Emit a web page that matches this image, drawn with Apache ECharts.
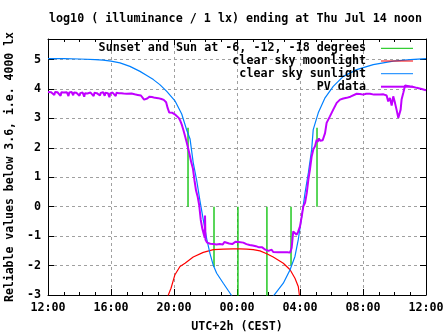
<!DOCTYPE html>
<html><head><meta charset="utf-8">
<script src="https://cdn.jsdelivr.net/npm/echarts@6/dist/echarts.min.js"></script>
<style>html,body{margin:0;padding:0;background:#fff}#c{width:447px;height:335px}</style>
</head><body><div id="c"></div><script>
const xTickLabels = ['12:00','16:00','20:00','00:00','04:00','08:00','12:00'];
const xTickHours = [0,4,8,12,16,20,24];
const seriesNames = ['Sunset and Sun at -6, -12, -18 degrees','clear sky moonlight','clear sky sunlight','PV data'];
const sunEventHours = [8.89, 10.54, 12.06, 13.90, 15.43, 17.08];
const sunEventTops  = [2.68, -2.05, -3.5, -3.5, -2.0, 2.68];
const moonHours  = [7.55,7.64,7.81,8.06,8.38,8.70,9.22,9.86,10.50,11.13,11.77,12.19,12.62,13.03,13.46,13.89,14.30,14.94,15.37,15.68,15.89,15.96,16.02];
const moonValues = [-3.3,-3.0,-2.77,-2.31,-2.03,-1.92,-1.71,-1.55,-1.46,-1.44,-1.43,-1.43,-1.44,-1.46,-1.50,-1.60,-1.71,-1.92,-2.14,-2.43,-2.71,-3.0,-3.3];
const sunHours  = [0,1,2,3,3.5,4,4.57,5.2,5.84,6.3,6.69,7.1,7.54,8.06,8.49,8.81,9.02,9.22,9.44,9.65,9.86,10.08,10.29,10.5,10.71,11.13,11.56,11.75,
                   14.2,14.29,14.94,15.37,15.68,15.89,16.11,16.32,16.53,16.74,16.84,17.16,17.59,18.11,18.75,19.6,20.65,21.92,23,24];
const sunValues = [5.03,5.03,5.02,5.0,4.98,4.95,4.89,4.77,4.6,4.45,4.32,4.15,3.92,3.6,3.15,2.6,2.3,1.5,0.9,0.2,-0.45,-1.1,-1.6,-2.0,-2.26,-2.6,-2.94,-3.1,
                   -3.2,-3.05,-2.6,-2.14,-1.69,-1.12,-0.33,0.47,1.15,1.94,2.62,3.19,3.70,4.09,4.43,4.66,4.83,4.95,5.0,5.03];
const pvHours = [0.0,0.1,0.2,0.3,0.4,0.45,0.6,0.7,0.8,0.85,1.0,1.1,1.2,1.3,1.35,1.5,1.6,1.65,1.8,1.9,2.0,2.05,2.2,2.3,2.35,2.5,2.6,2.7,2.8,2.9,2.95,3.1,3.2,3.3,3.35,3.5,3.6,3.65,3.8,3.9,3.95,4.1,4.2,4.3,4.35,4.5,4.6,4.65,4.8,4.9,5.0,5.1,5.3,5.5,5.7,5.9,6.0,6.1,6.2,6.3,6.45,6.6,6.8,7.0,7.2,7.35,
  7.5,7.6,7.7,7.8,7.9,8.0,8.1,8.2,8.3,8.4,8.5,8.6,8.7,8.8,8.9,9.0,9.1,9.2,9.3,9.4,9.5,9.6,9.7,9.8,9.9,9.95,9.97,10.0,10.1,10.2,
  10.3,10.4,10.5,10.6,10.7,10.8,10.9,11.0,11.1,11.2,11.3,11.5,11.6,11.7,11.8,11.9,12.0,12.1,12.2,12.4,12.5,12.6,12.7,12.8,12.9,13.0,13.1,13.2,13.3,13.4,13.5,13.6,13.7,13.8,13.9,14.0,14.1,14.2,14.3,14.4,14.6,14.8,15.0,15.2,15.37,
  15.47,15.57,15.68,15.79,15.89,16.0,16.11,16.21,16.32,16.43,16.53,16.63,16.74,16.85,16.95,17.06,17.12,17.2,17.28,17.36,17.44,17.52,17.59,17.69,17.9,18.11,18.33,18.54,18.75,18.96,19.2,19.6,19.8,20.02,20.2,20.44,20.7,21.08,21.3,21.5,
  21.6,21.71,21.82,21.92,22.03,22.13,22.24,22.3,22.39,22.45,22.56,22.67,22.98,23.2,23.41,23.72,24.0];
const pvValues = [3.90,3.91,3.89,3.90,3.80,3.90,3.89,3.88,3.77,3.89,3.88,3.87,3.89,3.76,3.88,3.90,3.79,3.88,3.87,3.92,3.77,3.86,3.88,3.74,3.86,3.85,3.79,3.88,3.86,3.76,3.87,3.86,3.88,3.78,3.87,3.89,3.77,3.87,3.86,3.72,3.85,3.88,3.84,3.76,3.87,3.86,3.80,3.86,3.85,3.87,3.84,3.86,3.85,3.82,3.80,3.78,3.72,3.64,3.60,3.68,3.74,3.73,3.70,3.69,3.66,3.63,
  3.55,3.35,3.20,3.15,3.19,3.16,3.12,3.10,3.02,2.92,2.78,2.60,2.40,2.20,1.98,1.75,1.50,1.30,0.90,0.55,0.35,0.05,-0.45,-0.75,-0.95,-1.05,-0.30,-1.12,-1.22,-1.28,
  -1.26,-1.29,-1.27,-1.25,-1.28,-1.22,-1.27,-1.24,-1.28,-1.20,-1.26,-1.25,-1.20,-1.27,-1.24,-1.19,-1.22,-1.20,-1.19,-1.22,-1.24,-1.27,-1.26,-1.30,-1.33,-1.32,-1.35,-1.34,-1.37,-1.38,-1.41,-1.38,-1.44,-1.46,-1.48,-1.50,-1.46,-1.46,-1.54,-1.55,-1.55,-1.55,-1.55,-1.55,-1.56,
  -1.40,-0.84,-0.78,-0.95,-0.84,-0.67,-0.33,0.01,0.13,0.47,0.92,1.26,1.71,1.95,2.05,2.28,2.20,2.32,2.24,2.30,2.26,2.30,2.50,2.85,3.07,3.30,3.53,3.64,3.68,3.70,3.74,3.84,3.83,3.81,3.84,3.84,3.81,3.81,3.82,3.78,
  3.58,3.70,3.44,3.75,3.53,3.30,3.02,3.07,3.30,3.64,3.87,4.12,4.09,4.07,4.04,4.00,3.96];

const FONT = 'DejaVu Sans Mono';
const FS = 11.7;
const txt = {fontFamily: FONT, fontSize: FS, fontWeight: 'bold', color: '#000'};

const greenData = [];
sunEventHours.forEach((h, i) => { greenData.push([h, 0], [h, sunEventTops[i]], [h, '-']); });
const zip = (a, b) => a.map((v, i) => [v, b[i]]);

const colors = ['#00c000', '#ff0000', '#0080ff', '#c000ff'];
const legendRowTop = [41.3, 54, 66.7, 79.7];
const legendIconH = [1, 1, 1, 2];

const chart = echarts.init(document.getElementById('c'), null, {renderer: 'canvas'});
chart.setOption({
  animation: false,
  backgroundColor: '#fff',
  title: {text: 'log10 ( illuminance / 1 lx) ending at Thu Jul 14 noon', left: 49, top: 12, padding: 0,
          textStyle: Object.assign({}, txt, {lineHeight: 14})},
  grid: {left: 48, right: 21, top: 39, bottom: 40, containLabel: false, outerBoundsMode: 'none'},
  legend: seriesNames.map((n, i) => ({
    data: [n], right: 34, top: legendRowTop[i], padding: 0, align: 'right', orient: 'vertical',
    icon: 'rect', itemWidth: 32, itemHeight: legendIconH[i], selectedMode: false,
    itemStyle: {color: colors[i], borderWidth: 0},
    textStyle: Object.assign({}, txt, {lineHeight: 14, padding: [0, 10, 0, 0]})
  })),
  xAxis: [{
    type: 'value', min: 0, max: 24, interval: 4, position: 'bottom',
    axisLine: {onZero: false, lineStyle: {color: '#000', width: 1}},
    axisTick: {inside: true, length: 6, lineStyle: {color: '#000'}},
    minorTick: {show: true, splitNumber: 4, length: 3, lineStyle: {color: '#000'}},
    axisLabel: Object.assign({}, txt, {margin: 7, formatter: v => xTickLabels[xTickHours.indexOf(v)] || ''}),
    splitLine: {show: true, lineStyle: {color: '#a0a0a0', type: [3, 3], width: 1}},
    name: 'UTC+2h (CEST)', nameLocation: 'middle', nameGap: 26, nameTextStyle: txt
  }, {
    type: 'value', min: 0, max: 24, interval: 4, position: 'top',
    axisLine: {onZero: false, lineStyle: {color: '#000', width: 1}},
    axisTick: {inside: true, length: 6, lineStyle: {color: '#000'}},
    minorTick: {show: true, splitNumber: 4, length: 3, lineStyle: {color: '#000'}},
    axisLabel: {show: false}, splitLine: {show: false}
  }],
  yAxis: [{
    type: 'value', min: -3, max: 5.7, interval: 1, position: 'left',
    axisLine: {show: true, onZero: false, lineStyle: {color: '#000', width: 1}},
    axisTick: {show: true, inside: true, length: 6, lineStyle: {color: '#000'}},
    axisLabel: Object.assign({}, txt, {margin: 7, showMaxLabel: false, formatter: v => Number.isInteger(v) ? String(v) : ''}),
    splitLine: {show: true, lineStyle: {color: '#a0a0a0', type: [3, 3], width: 1}},
    name: 'Reliable values below 3.6, i.e. 4000 lx', nameLocation: 'middle', nameGap: 25, nameRotate: 90,
    nameTextStyle: Object.assign({}, txt, {fontSize: 11.5})
  }, {
    type: 'value', min: -3, max: 5.7, interval: 1, position: 'right',
    axisLine: {show: true, onZero: false, lineStyle: {color: '#000', width: 1}},
    axisTick: {show: true, inside: true, length: 6, lineStyle: {color: '#000'}},
    axisLabel: {show: false}, splitLine: {show: false}
  }],
  series: [
    {name: seriesNames[0], type: 'line', data: greenData, symbol: 'none', connectNulls: false,
     lineStyle: {color: colors[0], width: 1.3}, itemStyle: {color: colors[0]}},
    {name: seriesNames[1], type: 'line', data: zip(moonHours, moonValues), symbol: 'none',
     lineStyle: {color: colors[1], width: 1.2}, itemStyle: {color: colors[1]}},
    {name: seriesNames[2], type: 'line', data: zip(sunHours.slice(0, 28), sunValues.slice(0, 28)).concat([[12.9, '-']]).concat(zip(sunHours.slice(28), sunValues.slice(28))), symbol: 'none',
     lineStyle: {color: colors[2], width: 1.2}, itemStyle: {color: colors[2]}},
    {name: seriesNames[3], type: 'line', data: zip(pvHours, pvValues), symbol: 'none',
     lineStyle: {color: colors[3], width: 2}, itemStyle: {color: colors[3]}}
  ]
});
</script></body></html>
